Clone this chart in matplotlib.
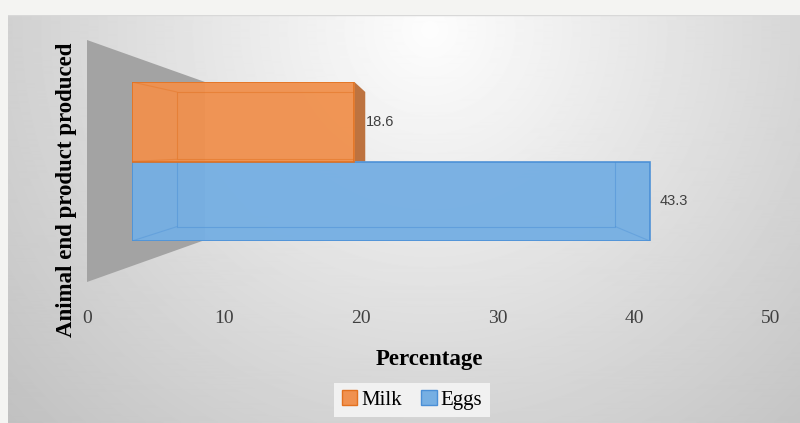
import matplotlib.pyplot as plt
import numpy as np
from matplotlib.patches import Polygon, Patch

categories = ["Eggs", "Milk"]
values = [43.3, 18.6]
value_labels = ["43.3", "18.6"]
ticks = [0, 10, 20, 30, 40, 50]

face = {"Milk": "#f0914f", "Eggs": "#76afe3"}
edge = {"Milk": "#e2711f", "Eggs": "#4a8fd6"}
side = {"Milk": "#b8652c", "Eggs": "#3f7fc0"}

W, H = 800, 423
fig = plt.figure(figsize=(8, 4.23), dpi=100)
fig.patch.set_facecolor("#f4f4f2")

# background panel with soft radial gradient
bg = fig.add_axes([8 / W, 0, 1 - 8 / W, 1 - 15 / H])
yy, xx = np.mgrid[15:H, 8:W]
d = np.hypot(xx - 430, yy - 30)
shade = np.clip(253 - 0.105 * d, 0, 255) / 255
bg.imshow(shade, cmap="gray", vmin=0, vmax=1, aspect="auto",
          extent=[8, W, H, 15], interpolation="bilinear")
bg.set_xlim(8, W)
bg.set_ylim(H, 15)
bg.axis("off")
# grey side wall
bg.add_patch(Polygon([(87, 40), (205, 82), (205, 240), (87, 282)],
                     closed=True, facecolor="#a3a3a3", edgecolor="none"))
bg.plot([8, W], [15.5, 15.5], color="#d8d8d8", lw=1)

# bar area
ax = fig.add_axes([132 / W, (H - 241) / H, (730 - 132) / W, 159 / H])
ax.set_xlim(0, 50)
ax.set_ylim(-0.5, 1.5)
ax.axis("off")

vx, vy, k = 24.5, 0.68, 0.847  # simple perspective for the back face
for i, (cat, val, lab) in enumerate(zip(categories, values, value_labels)):
    z = 3 + 2 * i
    bar = ax.barh(i, val, height=1.0, color=face[cat], edgecolor=edge[cat],
                  linewidth=1.2, alpha=0.96, zorder=z)[0]
    x0, x1, y0, y1 = 0, val, i - 0.5, i + 0.5
    bx0, bx1 = vx + k * (x0 - vx), vx + k * (x1 - vx)
    by0, by1 = vy + k * (y0 - vy), vy + k * (y1 - vy)
    ln, = ax.plot([bx0, bx1, bx1, bx0, bx0], [by0, by0, by1, by1, by0],
                  color=edge[cat], lw=0.8, alpha=0.5, zorder=z + 1)
    ln.set_clip_path(bar)
    for fx, fy, bx, by in [(x0, y0, bx0, by0), (x0, y1, bx0, by1),
                           (x1, y0, bx1, by0), (x1, y1, bx1, by1)]:
        ln, = ax.plot([fx, bx], [fy, by], color=edge[cat], lw=0.8, alpha=0.4,
                      zorder=z + 1)
        ln.set_clip_path(bar)
    if bx1 > x1:
        ax.add_patch(Polygon([(x1, y1), (bx1, by1), (bx1, y0), (x1, y0)],
                             closed=True, facecolor=side[cat], edgecolor="none",
                             alpha=0.9, zorder=2))
        tx = bx1 + 0.05
    else:
        tx = x1 + 0.8
    ax.text(tx, i, lab, va="center", ha="left", fontsize=10.5,
            family="Liberation Sans", color="#404040", zorder=9)

# floor axis with tick labels
ax_t = fig.add_axes([87 / W, (H - 300) / H, 684 / W, 0.001])
ax_t.set_xlim(0, 50)
ax_t.set_xticks(ticks)
ax_t.set_xticklabels([str(t) for t in ticks], family="Liberation Serif",
                     fontsize=14, color="#404040")
ax_t.tick_params(axis="x", length=0, pad=7)
ax_t.set_yticks([])
for s in ax_t.spines.values():
    s.set_visible(False)
ax_t.patch.set_alpha(0)
ax_t.set_xlabel("Percentage", family="Liberation Serif", fontweight="bold",
                fontsize=16.5, labelpad=16)

fig.text(67 / W, 1 - 190 / H, "Animal end product produced", rotation=90,
         ha="center", va="center", family="Liberation Serif",
         fontweight="bold", fontsize=16.5)

handles = [Patch(facecolor=face[c], edgecolor=edge[c], label=c)
           for c in ["Milk", "Eggs"]]
leg = fig.legend(handles=handles, loc="center", bbox_to_anchor=(412 / W, 1 - 400 / H),
                 ncol=2, frameon=True, fancybox=False, facecolor="#f1f1f1",
                 edgecolor="none", framealpha=1, handlelength=0.75,
                 handleheight=0.75, handletextpad=0.2, columnspacing=0.9,
                 borderpad=0.35, prop={"family": "Liberation Serif", "size": 15})

fig.savefig("out.png", dpi=100)
